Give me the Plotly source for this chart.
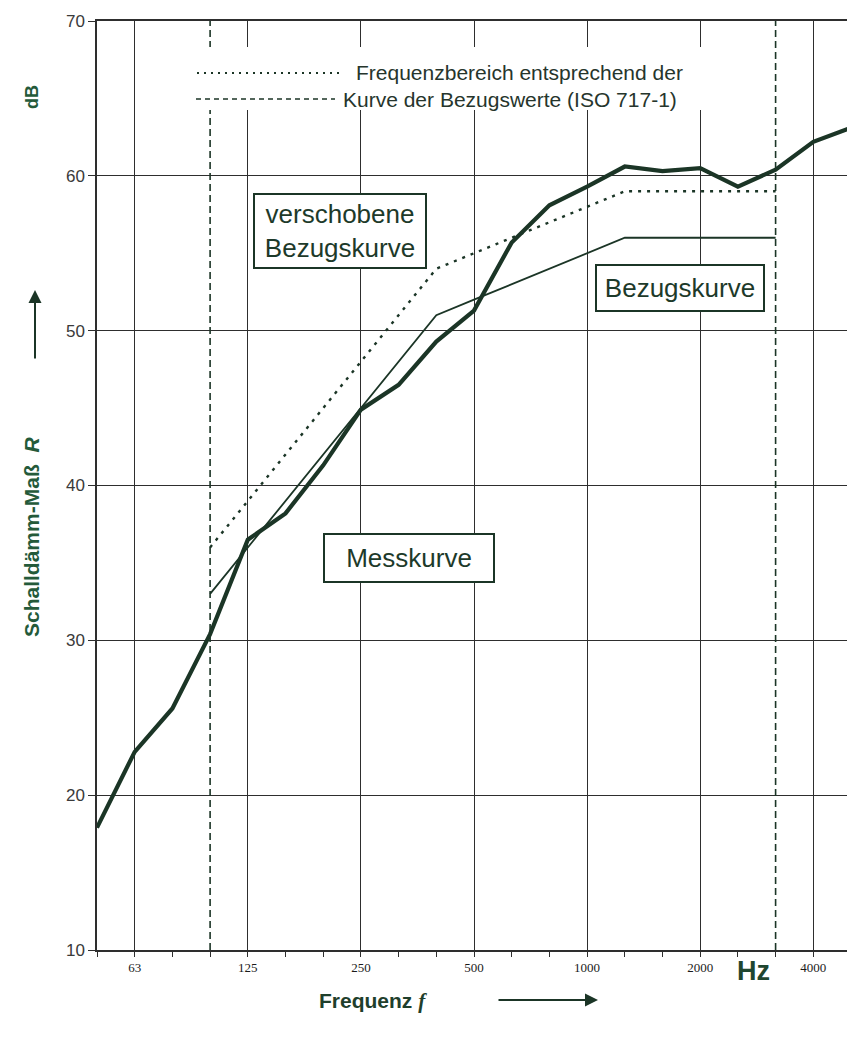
import plotly.graph_objects as go

# Third-octave band centre frequencies (Hz)
bands = ["50", "63", "80", "100", "125", "160", "200", "250", "315", "400", "500",
         "630", "800", "1000", "1250", "1600", "2000", "2500", "3150", "4000", "5000"]
octave_labels = ["63", "125", "250", "500", "1000", "2000", "4000"]

# Messkurve (measured sound reduction index, dB)
mess = [17.9, 22.8, 25.6, 30.4, 36.5, 38.2, 41.3, 44.9, 46.5, 49.3, 51.3,
        55.7, 58.1, 59.3, 60.6, 60.3, 60.5, 59.3, 60.4, 62.2, 63.1]

# Bezugskurve (ISO 717-1 reference values), 100 Hz ... 3150 Hz
ref_bands = ["100", "125", "160", "200", "250", "315", "400", "500",
             "630", "800", "1000", "1250", "1600", "2000", "2500", "3150"]
ref = [33, 36, 39, 42, 45, 48, 51, 52, 53, 54, 55, 56, 56, 56, 56, 56]
# verschobene Bezugskurve
ref_shifted = [36, 39, 42, 45, 48, 51, 54, 55, 56, 57, 58, 59, 59, 59, 59, 59]

# Frequency range limits (100 Hz and 3150 Hz)
range_bands = ["100", "3150"]

idx = {b: i for i, b in enumerate(bands)}
x_mess = [idx[b] for b in bands]
x_ref = [idx[b] for b in ref_bands]

LINE = "#1b3526"
GREEN = "#245a3a"
GRID = "#2e2e2e"

fig = go.Figure()

# vertical dashed lines: frequency range
vx, vy = [], []
for b in range_bands:
    vx += [idx[b], idx[b], None]
    vy += [10, 70, None]
fig.add_trace(go.Scatter(x=vx, y=vy, mode="lines",
                         line=dict(color=LINE, width=1.6, dash="7px,4px"),
                         showlegend=False, hoverinfo="skip"))

fig.add_trace(go.Scatter(x=x_ref, y=ref, mode="lines", name="Bezugskurve",
                         line=dict(color=LINE, width=1.8), showlegend=False))
fig.add_trace(go.Scatter(x=x_ref, y=ref_shifted, mode="lines", name="verschobene Bezugskurve",
                         line=dict(color=LINE, width=2.4, dash="3px,6px"), showlegend=False))
fig.add_trace(go.Scatter(x=x_mess, y=mess, mode="lines", name="Messkurve",
                         line=dict(color=LINE, width=4.2), showlegend=False))

# page has an 8px body margin: figure is drawn 8px right/down
OFF = 8
W, H = 855 - OFF, 1039 - 2 * OFF
# plot area in page (reference) pixel coordinates
PX0, PX1, PY0, PY1 = 97, 851, 21, 950
L, T = PX0 - OFF, PY0 - OFF
R = W - (PX1 - OFF)
B = H - (PY1 - OFF)
pw, ph = PX1 - PX0, PY1 - PY0


def px(xp):
    return (xp - PX0) / pw


def py(yp):
    return (PY1 - yp) / ph


def dx(xp):
    return (xp - PX0) / pw * 20


def dy(yp):
    return 70 - (yp - PY0) / ph * 60


shapes = []
# white legend area
shapes.append(dict(type="rect", xref="x", yref="y", x0=dx(190), x1=dx(712), y0=dy(47), y1=dy(110),
                   fillcolor="white", line=dict(width=0), layer="above"))
shapes.append(dict(type="line", xref="x", yref="y", x0=dx(197), x1=dx(340), y0=dy(73), y1=dy(73),
                   line=dict(color=LINE, width=2, dash="2px,5px"), layer="above"))
shapes.append(dict(type="line", xref="x", yref="y", x0=dx(196), x1=dx(335), y0=dy(99), y1=dy(99),
                   line=dict(color=LINE, width=1.6, dash="5px,4px"), layer="above"))

ann = []
LEGFONT = dict(family="Liberation Sans, Arial", size=21, color="#26352c")
ann.append(dict(x=dx(354), y=dy(72), xref="x", yref="y", xanchor="left", yanchor="middle",
                text="Frequenzbereich entsprechend der", showarrow=False, font=LEGFONT))
ann.append(dict(x=dx(341), y=dy(99), xref="x", yref="y", xanchor="left", yanchor="middle",
                text="Kurve der Bezugswerte (ISO 717-1)", showarrow=False, font=LEGFONT))

BOXFONT = dict(family="Liberation Sans, Arial", size=26, color="#1d3a2a")
ann.append(dict(x=dx(340), y=dy(230.5), xref="x", yref="y", text="verschobene<br>Bezugskurve",
                showarrow=False, font=BOXFONT, bgcolor="white", bordercolor=LINE, borderwidth=2,
                width=168, height=70, borderpad=1))
ann.append(dict(x=dx(679.5), y=dy(288), xref="x", yref="y", text="Bezugskurve",
                showarrow=False, font=BOXFONT, bgcolor="white", bordercolor=LINE, borderwidth=2,
                width=164, height=42, borderpad=1))
ann.append(dict(x=dx(409), y=dy(558), xref="x", yref="y", text="Messkurve",
                showarrow=False, font=BOXFONT, bgcolor="white", bordercolor=LINE, borderwidth=2,
                width=166, height=44, borderpad=1))

C = dict(xref="paper", yref="paper", xanchor="center", yanchor="middle")
LABFONT = dict(family="Liberation Sans, Arial", size=21, color=GREEN)
ann.append(dict(x=px(31), y=py(537), text="<b>Schalldämm-Maß  <i>R</i></b>",
                textangle=-90, showarrow=False, font=LABFONT, **C))
ann.append(dict(x=px(32), y=py(97), text="<b>dB</b>",
                textangle=-90, showarrow=False, font=dict(family="Liberation Sans, Arial", size=18, color=GREEN), **C))
ann.append(dict(x=px(35), y=py(290), xref="paper", yref="paper", ax=0, ay=70, text="",
                showarrow=True, arrowhead=2, arrowsize=1.3, arrowwidth=2, arrowcolor=LINE))
ann.append(dict(x=px(373), y=py(1001), text="<b>Frequenz <i style='font-family:Liberation Serif'>f</i></b>",
                showarrow=False, font=dict(family="Liberation Sans, Arial", size=21, color="#1f3f2c"), **C))
ann.append(dict(x=px(598), y=py(1000), xref="paper", yref="paper", ax=-101, ay=0, text="",
                showarrow=True, arrowhead=2, arrowsize=1.3, arrowwidth=2, arrowcolor=LINE))
ann.append(dict(x=px(753), y=py(971), text="<b>Hz</b>",
                showarrow=False, font=dict(family="Liberation Sans, Arial", size=27, color="#1f4630"), **C))

fig.update_layout(
    width=W, height=H,
    margin=dict(l=L, r=R, t=T, b=B, autoexpand=False),
    paper_bgcolor="white", plot_bgcolor="white",
    shapes=shapes, annotations=ann,
    showlegend=False,
)

fig.update_xaxes(
    range=[0, 20], tickmode="array",
    tickvals=[idx[b] for b in octave_labels], ticktext=octave_labels,
    showgrid=True, gridcolor=GRID, gridwidth=1.2,
    showline=True, linecolor=GRID, linewidth=1.5, mirror=True,
    ticks="outside", ticklen=5, tickcolor=GRID,
    minor=dict(tickmode="linear", tick0=0, dtick=1, ticks="outside", ticklen=5, tickcolor=GRID, showgrid=False),
    tickfont=dict(family="Liberation Serif, Times New Roman", size=13, color="#1a1a1a"),
    zeroline=False,
)
fig.update_yaxes(
    range=[10, 70], dtick=10, tick0=10,
    showgrid=True, gridcolor=GRID, gridwidth=1.2,
    showline=True, linecolor=GRID, linewidth=1.5, mirror=True,
    ticks="outside", ticklen=7, tickcolor=GRID,
    tickfont=dict(family="Liberation Sans, Arial", size=17, color="#3a3a3a"),
    zeroline=False,
)

fig.write_html("out.html")
